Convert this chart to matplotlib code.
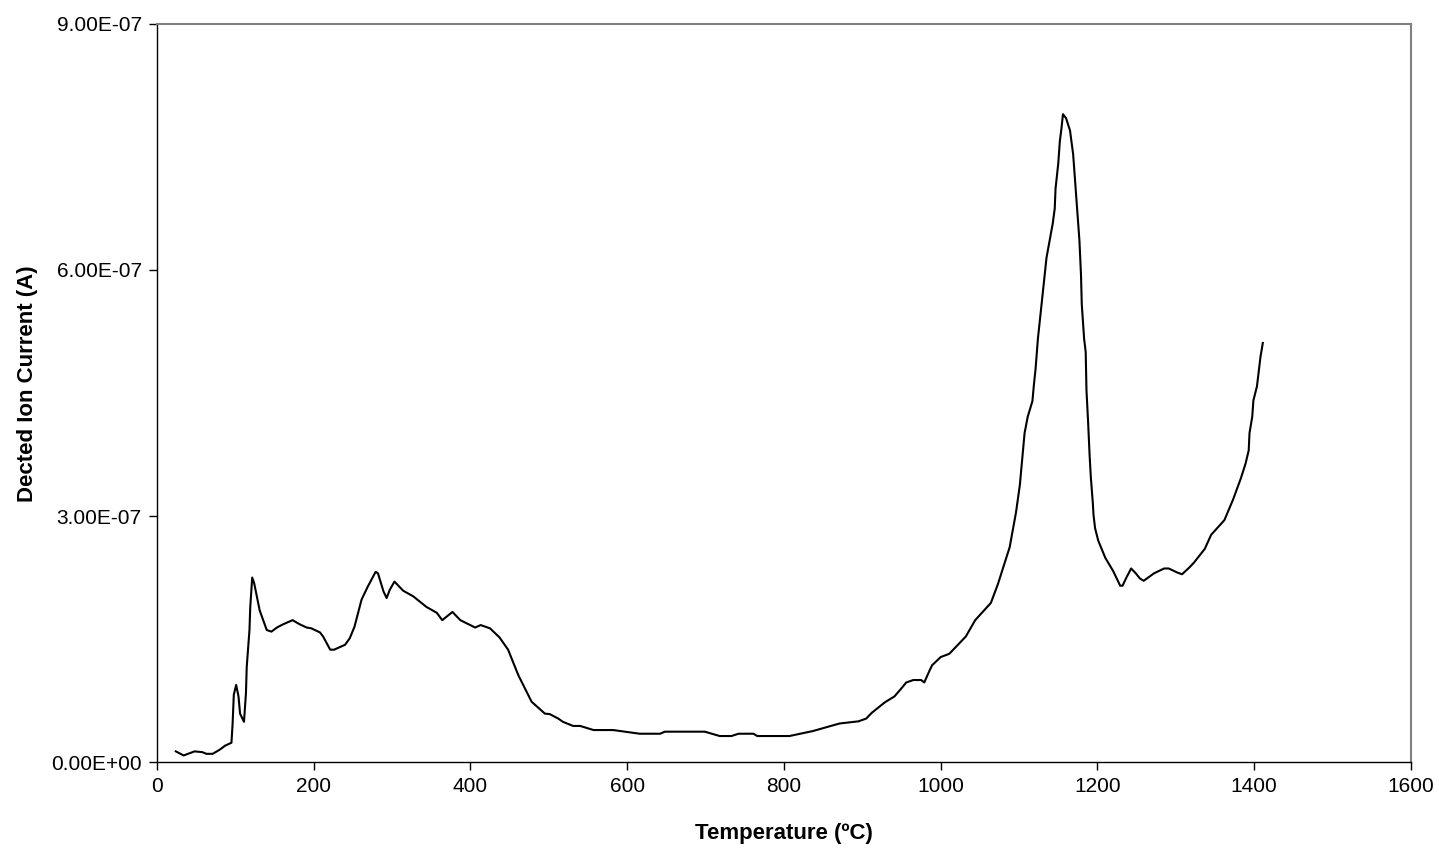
import matplotlib.pyplot as plt
import numpy as np

plt.rcParams['font.family'] = ['Liberation Sans', 'DejaVu Sans']

# temperature (C) and detected ion current (units of 1e-7 A)
temp = [24, 34, 48, 58, 63, 71, 80, 87, 95, 96.5, 98, 101, 104, 106, 111, 113.5,
        114.5, 118, 119, 121.5, 124, 131, 140, 146, 153, 161, 173, 182, 191, 197,
        208, 212, 221, 226, 240, 246, 252, 261, 269, 279, 282, 289, 293, 297, 303,
        314, 327, 344, 357, 364, 377, 387, 406, 413, 425, 437, 448, 461, 478, 495,
        501, 512, 518, 531, 540, 557, 582, 616, 642, 648, 699, 718, 733, 742, 761,
        766, 807, 837, 871, 895, 905, 912, 929, 941, 950, 956, 965, 975, 979, 986,
        989, 1000, 1011, 1032, 1044, 1064, 1073, 1088, 1096, 1101, 1107, 1111, 1117,
        1119, 1121, 1124, 1128, 1135, 1139, 1143, 1145.5, 1146.5, 1150, 1152, 1154,
        1156, 1160, 1165, 1169, 1173, 1177, 1179, 1180, 1183, 1185, 1186, 1188, 1190,
        1191.5, 1194, 1195, 1197, 1201, 1210, 1220, 1229, 1232, 1237, 1243, 1249,
        1254, 1259, 1272, 1285, 1291, 1302, 1308, 1317, 1323, 1337, 1345, 1362, 1373,
        1383, 1389, 1393, 1394, 1397.5, 1399, 1403.5, 1406, 1408, 1411]
current = [0.13, 0.08, 0.13, 0.12, 0.10, 0.10, 0.15, 0.20, 0.235, 0.47, 0.82, 0.94,
           0.80, 0.59, 0.49, 0.84, 1.16, 1.61, 1.89, 2.25, 2.18, 1.85, 1.61, 1.59,
           1.64, 1.68, 1.73, 1.68, 1.64, 1.63, 1.58, 1.53, 1.37, 1.37, 1.43, 1.51,
           1.65, 1.98, 2.14, 2.32, 2.30, 2.08, 2.00, 2.10, 2.20, 2.09, 2.02, 1.89,
           1.82, 1.73, 1.83, 1.73, 1.64, 1.67, 1.63, 1.52, 1.37, 1.06, 0.735, 0.59,
           0.585, 0.53, 0.49, 0.44, 0.44, 0.39, 0.39, 0.345, 0.345, 0.37, 0.37, 0.317,
           0.317, 0.345, 0.345, 0.317, 0.317, 0.378, 0.47, 0.496, 0.53, 0.60, 0.73,
           0.80, 0.90, 0.97, 1.00, 1.00, 0.97, 1.12, 1.18, 1.28, 1.32, 1.53, 1.73,
           1.94, 2.17, 2.62, 3.04, 3.38, 4.01, 4.21, 4.40, 4.61, 4.79, 5.16, 5.52,
           6.15, 6.36, 6.57, 6.75, 6.99, 7.30, 7.57, 7.72, 7.90, 7.85, 7.70, 7.41,
           6.88, 6.36, 5.94, 5.58, 5.16, 5.00, 4.53, 4.16, 3.74, 3.48, 3.17, 3.01,
           2.85, 2.70, 2.49, 2.33, 2.15, 2.15, 2.25, 2.36, 2.30, 2.24, 2.21, 2.30,
           2.36, 2.36, 2.31, 2.29, 2.37, 2.43, 2.60, 2.77, 2.95, 3.20, 3.46, 3.64,
           3.80, 4.01, 4.21, 4.41, 4.58, 4.78, 4.94, 5.11]

xticks = [0, 200, 400, 600, 800, 1000, 1200, 1400, 1600]
yticks = [0, 3e-7, 6e-7, 9e-7]
ylabels = ['0.00E+00', '3.00E-07', '6.00E-07', '9.00E-07']

fig = plt.figure(figsize=(14.39, 8.5), dpi=100)
ax = fig.add_axes([0.1091, 0.1035, 0.8714, 0.8683])

ax.plot(temp, np.array(current) * 1e-7, color='black', lw=1.5)

ax.set_xlim(0, 1600)
ax.set_ylim(0, 9e-7)
ax.set_xticks(xticks)
ax.set_yticks(yticks)
ax.set_yticklabels(ylabels)
ax.tick_params(labelsize=15, length=6, width=1, color='black', pad=5)

for s in ['top', 'right']:
    ax.spines[s].set_color('#808080')
    ax.spines[s].set_linewidth(1.5)
for s in ['left', 'bottom']:
    ax.spines[s].set_color('black')
    ax.spines[s].set_linewidth(1)

ax.set_xlabel('Temperature (ºC)', fontsize=16, fontweight='bold', labelpad=19)
ax.set_ylabel('Dected Ion Current (A)', fontsize=16, fontweight='bold')
ax.yaxis.set_label_coords(-0.095, 0.512)

fig.savefig('out.png', dpi=100)
